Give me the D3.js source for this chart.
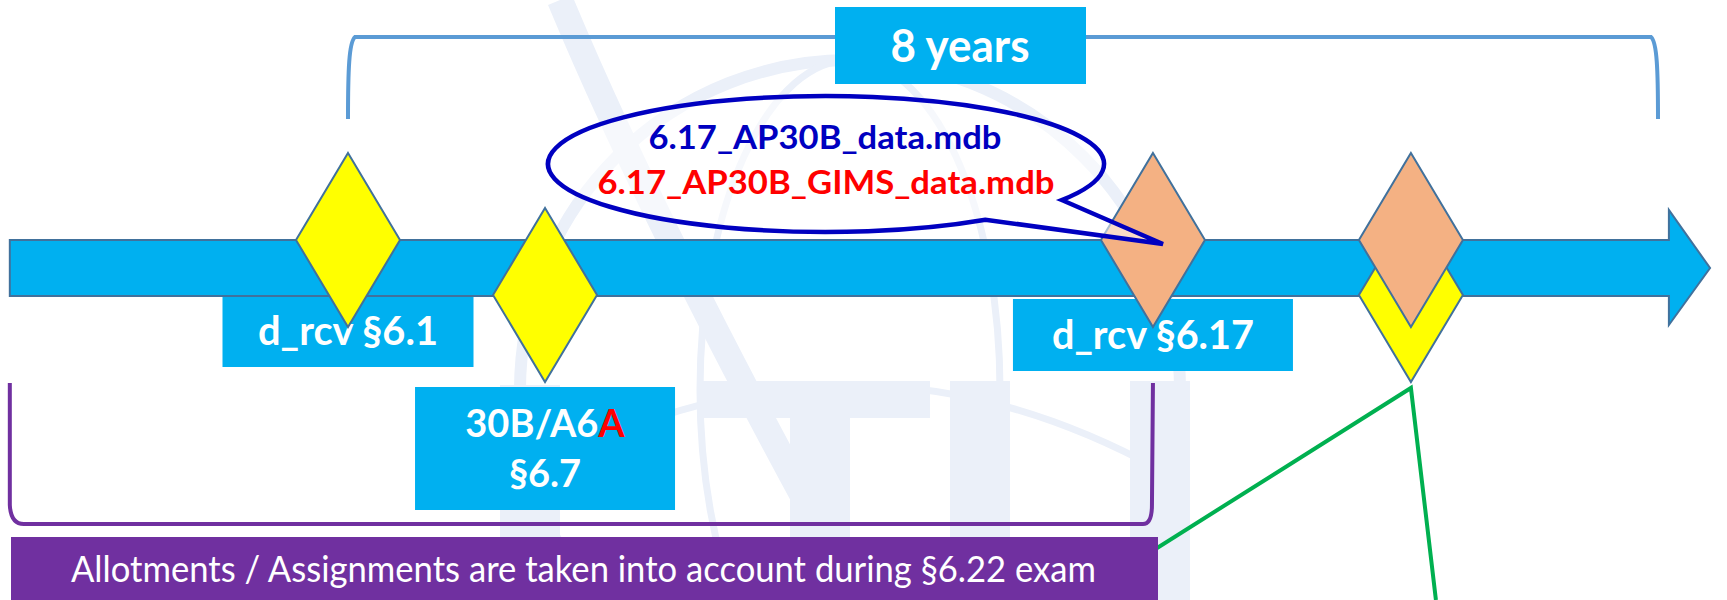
<!DOCTYPE html>
<meta charset="utf-8">
<style>
body { margin: 0; background: #ffffff; }
svg text { font-family: Lato, "Open Sans", sans-serif; }
</style>
<body>
<svg id="diagram" width="1727" height="600"></svg>

<script src="https://cdn.jsdelivr.net/npm/d3@7/dist/d3.min.js"></script>
<script>
// ---- data: timeline in years, counted from the first d_rcv ----
var milestoneYears = [0, 1.206, 4.927, 6.506, 6.506];
var milestoneSide  = ["top", "bottom", "top", "bottom", "top"];     // diamond centred on bar top or bottom edge
var milestoneFill  = ["#ffff00", "#ffff00", "#f4b183", "#ffff00", "#f4b183"];
var axisYears      = [-2.07, 8.085, 8.337];                          // bar start, arrow head base, arrow tip
var periodYears    = [0, 8];
var periodLabel    = "8 years";
var boxLabels      = [["d_rcv §6.1"], ["30B/A6", "§6.7"], ["d_rcv §6.17"]];
var redSuffix      = "A";
var bubbleLines    = ["6.17_AP30B_data.mdb", "6.17_AP30B_GIMS_data.mdb"];
var noteText       = "Allotments / Assignments are taken into account during §6.22 exam";

var svg = d3.select("#diagram");

// years -> pixels
var x = d3.scaleLinear().domain([0, 8]).range([348, 1655]);

var barTop = 240, barBot = 296, barMid = (barTop + barBot) / 2;
var dHalfW = 52, dHalfH = 87;
var outline = "#41719c";

// ---- faint ITU watermark in the background ----
var wm = svg.append("g").attr("fill", "none").attr("stroke", "#ebf0f9");
wm.append("circle").attr("cx", 850).attr("cy", 390).attr("r", 330).attr("stroke-width", 12);
wm.append("ellipse").attr("cx", 850).attr("cy", 390).attr("rx", 150).attr("ry", 330).attr("stroke-width", 7);
wm.append("path").attr("d", "M560,0 Q660,240 860,600").attr("stroke-width", 26);
wm.append("path").attr("d", "M540,470 Q850,300 1160,470").attr("stroke-width", 7);
var wmFill = svg.append("g").attr("fill", "#ebf0f9");
[[500, 385, 60, 215], [700, 381, 230, 37], [790, 381, 60, 219], [950, 381, 60, 219], [1130, 381, 60, 219]]
  .forEach(function(r) {
    wmFill.append("rect").attr("x", r[0]).attr("y", r[1]).attr("width", r[2]).attr("height", r[3]);
  });

// ---- top period bracket + "8 years" ----
var bx0 = x(periodYears[0]), bx1 = x(periodYears[1]);
svg.append("path")
  .attr("d", "M" + bx0 + ",119 C" + bx0 + ",70 " + (bx0 + 1) + ",42 " + (bx0 + 7) + ",37 L" + (bx1 - 4) + ",37 C" +
        (bx1 + 2) + ",42 " + (bx1 + 3) + ",70 " + (bx1 + 3) + ",119")
  .attr("fill", "none").attr("stroke", "#5b9bd5").attr("stroke-width", 4);

svg.append("rect").attr("x", 835).attr("y", 7).attr("width", 251).attr("height", 77).attr("fill", "#00b0f0");
svg.append("text").attr("x", 960).attr("y", 62).attr("text-anchor", "middle")
  .attr("font-size", 45).attr("font-weight", 700).attr("fill", "#ffffff")
  .attr("textLength", 139).attr("lengthAdjust", "spacingAndGlyphs")
  .text(periodLabel);

// ---- purple bracket, note and green pointer lines ----
var px0 = x(axisYears[0]), px1 = x(milestoneYears[2]);
svg.append("path")
  .attr("d", "M" + px0 + ",383 L" + px0 + ",505 Q" + (px0 + 1) + ",524 " + (px0 + 14) + ",524 L" + (px1 - 10) + ",524 Q" +
        (px1 - 1) + ",524 " + (px1 - 1) + ",505 L" + px1 + ",383")
  .attr("fill", "none").attr("stroke", "#7030a0").attr("stroke-width", 4);

var apexX = x(milestoneYears[3]), apexY = barBot + dHalfH + 5;
svg.append("polyline")
  .attr("points", [[1100, 584], [apexX, apexY], [apexX + 25, 600]].join(" "))
  .attr("fill", "none").attr("stroke", "#00b050").attr("stroke-width", 4);

svg.append("rect").attr("x", 11).attr("y", 537).attr("width", 1147).attr("height", 70).attr("fill", "#7030a0");
svg.append("text").attr("x", 71).attr("y", 582)
  .attr("font-size", 37).attr("fill", "#ffffff")
  .attr("textLength", 1025).attr("lengthAdjust", "spacingAndGlyphs")
  .text(noteText);

// ---- label boxes under the bar ----
var boxes = [
  {m: 0, w: 251, y: 297, h: 70, base: [345], tl: [180]},
  {m: 1, w: 260, y: 387, h: 123, base: [437, 487], tl: [null, null]},
  {m: 2, w: 280, y: 299, h: 72, base: [349], tl: [202]}
];
boxes.forEach(function(b) {
  var cx = x(milestoneYears[b.m]);
  svg.append("rect").attr("x", cx - b.w / 2).attr("y", b.y).attr("width", b.w).attr("height", b.h).attr("fill", "#00b0f0");
  boxLabels[b.m].forEach(function(line, i) {
    var t = svg.append("text").attr("x", cx).attr("y", b.base[i]).attr("text-anchor", "middle")
      .attr("font-weight", 700).attr("fill", "#ffffff");
    if (b.tl[i]) {
      t.attr("font-size", 41).attr("textLength", b.tl[i]).attr("lengthAdjust", "spacingAndGlyphs");
    } else {
      t.attr("font-size", 38);
    }
    t.append("tspan").text(line);
    if (b.m === 1 && i === 0) t.append("tspan").attr("fill", "#ff0000").text(redSuffix);
  });
});

// ---- timeline arrow ----
var ax0 = x(axisYears[0]), axh = x(axisYears[1]), axt = x(axisYears[2]);
svg.append("polygon")
  .attr("points", [[ax0, barTop], [axh, barTop], [axh, barTop - 30], [axt, barMid], [axh, barBot + 29], [axh, barBot], [ax0, barBot]].join(" "))
  .attr("fill", "#00b0f0").attr("stroke", outline).attr("stroke-width", 2).attr("stroke-linejoin", "miter");

// ---- milestone diamonds ----
svg.append("g").selectAll("polygon")
  .data(milestoneYears)
  .join("polygon")
  .attr("points", function(d, i) {
    var cx = x(d), cy = milestoneSide[i] === "top" ? barTop : barBot - 1;
    return [[cx, cy - dHalfH], [cx + dHalfW, cy], [cx, cy + dHalfH], [cx - dHalfW, cy]].join(" ");
  })
  .attr("fill", function(d, i) { return milestoneFill[i]; })
  .attr("stroke", outline).attr("stroke-width", 2);

// ---- speech bubble ----
var ecx = 826, ecy = 164, erx = 278, ery = 68;
function onEllipse(deg) {
  var a = deg * Math.PI / 180;
  return [ecx + erx * Math.cos(a), ecy + ery * Math.sin(a)];
}
var pA = onEllipse(55), pB = onEllipse(32), tip = [x(milestoneYears[2]) + 10, 244];
svg.append("path")
  .attr("d", "M" + pB + " L" + tip + " L" + pA + " A" + erx + "," + ery + " 0 1 1 " + pB + " Z")
  .attr("fill", "#ffffff").attr("fill-opacity", 0.55)
  .attr("stroke", "#0000c0").attr("stroke-width", 4.5).attr("stroke-linejoin", "miter");

svg.append("text").attr("x", 825).attr("y", 149).attr("text-anchor", "middle")
  .attr("font-size", 32).attr("font-weight", 700).attr("fill", "#0000c0")
  .attr("textLength", 353).attr("lengthAdjust", "spacingAndGlyphs")
  .text(bubbleLines[0]);
svg.append("text").attr("x", 826).attr("y", 194).attr("text-anchor", "middle")
  .attr("font-size", 32).attr("font-weight", 700).attr("fill", "#ff0000")
  .attr("textLength", 457).attr("lengthAdjust", "spacingAndGlyphs")
  .text(bubbleLines[1]);
</script>
</body>
